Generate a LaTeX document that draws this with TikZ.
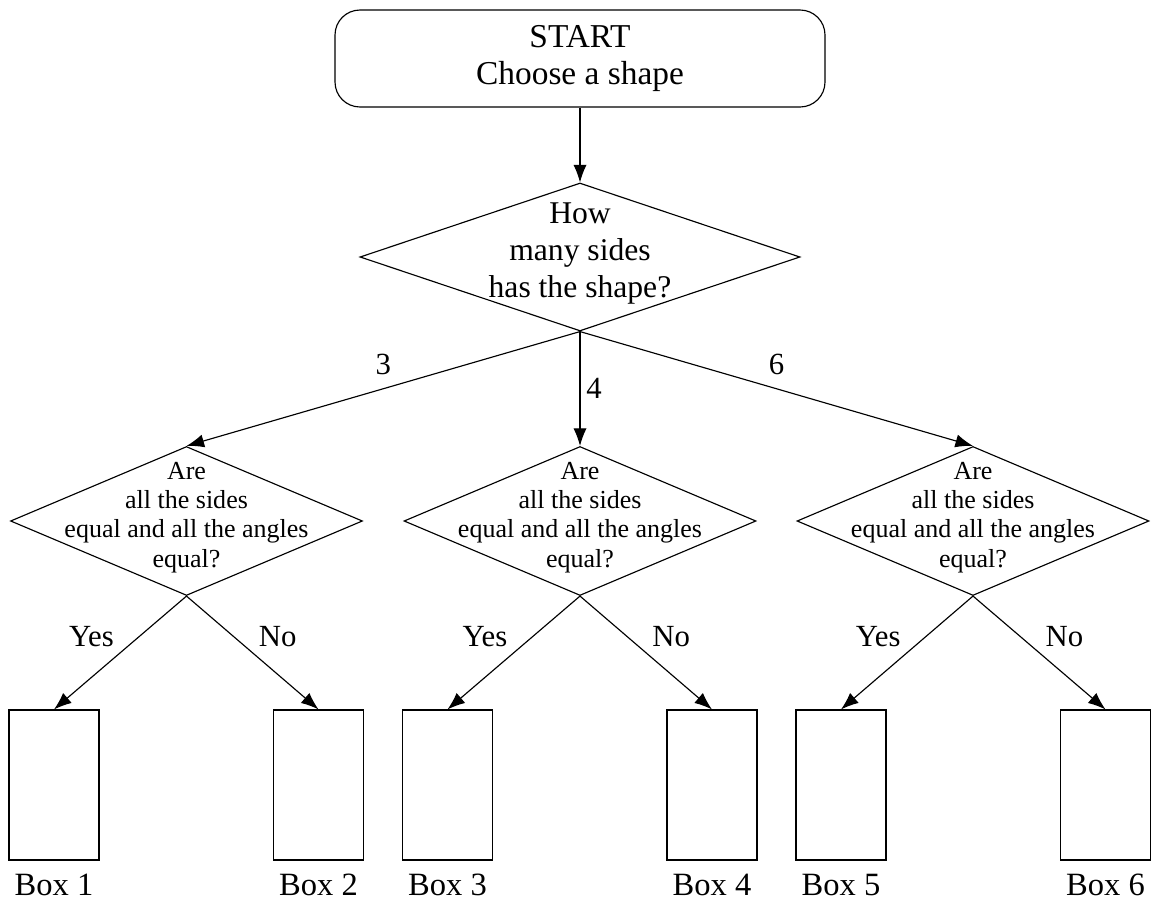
\documentclass[tikz,border=0pt]{standalone}
\usepackage{fontspec}
\setmainfont{Liberation Serif}
\usetikzlibrary{shapes.geometric,arrows.meta,positioning}

\begin{document}
\begin{tikzpicture}[>={Latex[length=10pt,width=7.5pt]},line width=0.65pt,
    startbox/.style={draw,rectangle,rounded corners=0.5cm,minimum width=9.8cm,minimum height=1.94cm,align=center,font=\fontsize{19}{21.5}\selectfont},
    decision/.style={draw,diamond,inner sep=0pt,minimum width=8.8cm,minimum height=2.96cm},
    subdecision/.style={draw,diamond,inner sep=0pt,minimum width=7.04cm,minimum height=2.98cm},
    qtext/.style={align=center,font=\fontsize{18}{21}\selectfont},
    subtext/.style={align=center,font=\fontsize{14.8}{16.7}\selectfont},
    leaf/.style={draw,rectangle,inner sep=0pt,minimum width=1.8cm,minimum height=3cm},
    leaflabel/.style={font=\fontsize{18.5}{22}\selectfont},
    branch/.style={font=\fontsize{17.5}{21}\selectfont}]
      \useasboundingbox (0,0) rectangle (23.12,-18.04);
      \node[startbox] (start) at (11.6,-1.17) {START\\Choose a shape};
      \node[decision] (q) at (11.6,-5.14) {};
      \node[qtext,yshift=2pt] (qtxt) at (q) {How\\many sides\\has the shape?};
      % second level: one test per number of sides
      \node[subdecision] (d3) at (3.73,-10.42) {};
      \node[subdecision] (d4) at (11.6,-10.42) {};
      \node[subdecision] (d6) at (19.46,-10.42) {};
      \node[subtext,yshift=2pt] (d3txt) at (d3) {Are\\all the sides\\equal and all the angles\\equal?};
      \node[subtext,yshift=2pt] (d4txt) at (d4) {Are\\all the sides\\equal and all the angles\\equal?};
      \node[subtext,yshift=2pt] (d6txt) at (d6) {Are\\all the sides\\equal and all the angles\\equal?};
      % empty boxes
      \node[leaf] (b1) at (1.08,-15.7) {};
      \node[leaf] (b2) at (6.37,-15.7) {};
      \node[leaf] (b3) at (8.95,-15.7) {};
      \node[leaf] (b4) at (14.24,-15.7) {};
      \node[leaf] (b5) at (16.82,-15.7) {};
      \node[leaf] (b6) at (22.11,-15.7) {};
      \node[leaflabel,below=4pt of b1] (l1) {Box 1};
      \node[leaflabel,below=4pt of b2] (l2) {Box 2};
      \node[leaflabel,below=4pt of b3] (l3) {Box 3};
      \node[leaflabel,below=4pt of b4] (l4) {Box 4};
      \node[leaflabel,below=4pt of b5] (l5) {Box 5};
      \node[leaflabel,below=4pt of b6] (l6) {Box 6};
      % arrows
      \draw[->] (start.south) -- (q.north);
      \draw[->] (q.south) -- node[branch,above=4pt] (n3) {3} (d3.north);
      \draw[->] (q.south) -- node[branch,right] (n4) {4} (d4.north);
      \draw[->] (q.south) -- node[branch,above=4pt] (n6) {6} (d6.north);
      \draw[->] (d3.south) -- node[branch,above left] (y1) {Yes} (b1.north);
      \draw[->] (d3.south) -- node[branch,above right] (no1) {No} (b2.north);
      \draw[->] (d4.south) -- node[branch,above left] (y2) {Yes} (b3.north);
      \draw[->] (d4.south) -- node[branch,above right] (no2) {No} (b4.north);
      \draw[->] (d6.south) -- node[branch,above left] (y3) {Yes} (b5.north);
      \draw[->] (d6.south) -- node[branch,above right] (no3) {No} (b6.north);
\end{tikzpicture}
\end{document}
